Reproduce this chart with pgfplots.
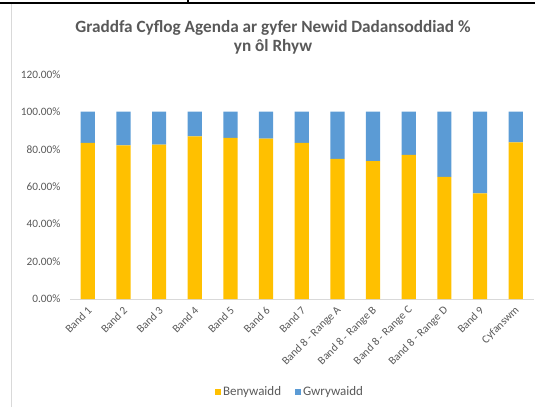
\documentclass[border=0pt]{standalone}
\usepackage{fontspec}
\setmainfont{Carlito}
\usepackage{pgfplots}
\pgfplotsset{compat=1.18}
\definecolor{ycol}{HTML}{FFC000}
\definecolor{bcol}{HTML}{5B9BD5}
\definecolor{txtgray}{HTML}{595959}
\definecolor{axgray}{HTML}{D9D9D9}
\begin{document}
\begin{tikzpicture}
\path[use as bounding box] (0pt,0pt) rectangle (535pt,407pt);
% frame lines
\draw[black, line width=2pt] (0pt,403.5pt) -- (535pt,403.5pt);
\draw[black, line width=1.5pt] (188pt,403.5pt) -- (188pt,407pt);
\draw[axgray, line width=1pt] (11pt,0pt) -- (11pt,402.5pt);
% title
\node[align=center, text=txtgray, font=\fontsize{17.2}{19.5}\selectfont\bfseries] at (273pt,369.5pt)
  {Graddfa Cyflog Agenda ar gyfer Newid Dadansoddiad \%\\yn ôl Rhyw};
\begin{axis}[
  at={(70pt,108pt)}, anchor=south west,
  scale only axis, width=463.5pt, height=224.7pt,
  ybar stacked, bar width=14.2pt,
  xmin=-0.5, xmax=12.5, ymin=0, ymax=120,
  xtick={0,...,12},
  xticklabels={Band 1,Band 2,Band 3,Band 4,Band 5,Band 6,Band 7,Band 8 - Range A,Band 8 - Range B,Band 8 - Range C,Band 8 - Range D,Band 9,Cyfanswm},
  ytick={0,20,40,60,80,100,120},
  yticklabels={0.00\%,20.00\%,40.00\%,60.00\%,80.00\%,100.00\%,120.00\%},
  major tick length=0pt,
  axis x line*=bottom, axis y line*=left,
  x axis line style={draw=axgray, line width=0.8pt, -},
  y axis line style={draw=none},
  tick label style={text=txtgray, font=\fontsize{11.3}{13}\selectfont},
  yticklabel style={xshift=-6pt},
  xticklabel style={rotate=45, anchor=east, xshift=-2pt, yshift=-8pt},
  legend style={at={(0.4747,-0.414)}, anchor=center, draw=none, fill=none,
    legend columns=2, font=\fontsize{13}{15}\selectfont, text=txtgray,
    /tikz/every even column/.append style={column sep=12pt}},
  clip=false,
]
\addplot[fill=ycol, draw=none,
  legend image code/.code={\fill[ycol] (0pt,-3pt) rectangle (6pt,3pt);}]
  coordinates {(0,83.4) (1,82.1) (2,82.5) (3,86.9) (4,86.0) (5,85.7) (6,83.4) (7,74.8) (8,73.6) (9,77.0) (10,65.2) (11,56.4) (12,83.7)};
\addlegendentry{Benywaidd}
\addplot[fill=bcol, draw=none,
  legend image code/.code={\fill[bcol] (0pt,-3pt) rectangle (6pt,3pt);}]
  coordinates {(0,16.6) (1,17.9) (2,17.5) (3,13.1) (4,14.0) (5,14.3) (6,16.6) (7,25.2) (8,26.4) (9,23.0) (10,34.8) (11,43.6) (12,16.3)};
\addlegendentry{Gwrywaidd}
\end{axis}
\end{tikzpicture}
\end{document}
